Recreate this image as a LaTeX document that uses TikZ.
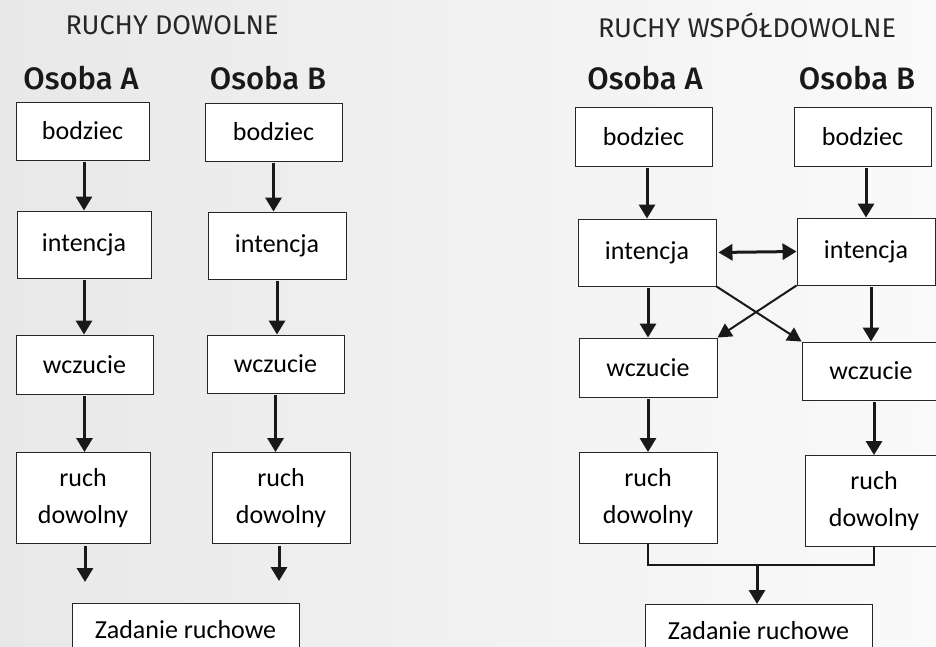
\documentclass[tikz,border=0pt]{standalone}
\usepackage{fontspec}
\setmainfont{Carlito}
\newfontfamily\headfont{Fira Sans}
\newfontfamily\personfont{Fira Sans Medium}
\usetikzlibrary{arrows.meta,calc}

\begin{document}
\begin{tikzpicture}[x=1pt,y=-1pt,
  boxline/.style={draw=black!85, line width=0.9pt},
  box/.style={boxline, fill=white, inner sep=0pt,
    align=center, font=\fontsize{26}{37}\selectfont},
  tasktext/.style={inner sep=0pt, font=\fontsize{26}{37}\selectfont},
  heading/.style={font=\headfont\fontsize{27}{30}\selectfont, text=black!85},
  person/.style={font=\personfont\fontsize{31}{34}\selectfont, text=black!90},
  flow/.style={line width=3pt, draw=black!90,
    -{Triangle[length=14pt,width=16pt]}},
  cross/.style={line width=2pt, draw=black!90,
    -{Triangle[length=14pt,width=15pt]}},
  link/.style={line width=2.5pt, draw=black!90},
  gapped/.style={shorten <=2pt}]

% page and faint background
\useasboundingbox (0,0) rectangle (936,647);
\clip (0,0) rectangle (936,647);
\shade[left color=black!9, middle color=black!5, right color=black!2]
  (0,0) rectangle (936,647);

% ---------- voluntary movements ----------
\node[heading] (tL) at (172,25) {RUCHY DOWOLNE};
\node[person] (pLA) at (81,78) {Osoba A};
\node[person] (pLB) at (268,78) {Osoba B};

\node[box, minimum width=133pt, minimum height=58pt] (lbA) at (82.5,131) {bodziec};
\node[box, minimum width=137pt, minimum height=58pt] (lbB) at (273.5,132) {bodziec};
\node[box, minimum width=134pt, minimum height=67pt] (liA) at (84,244.5) {intencja};
\node[box, minimum width=138pt, minimum height=67pt] (liB) at (277,245.5) {intencja};
\node[box, minimum width=137pt, minimum height=59pt] (lwA) at (84.5,364.5) {wczucie};
\node[box, minimum width=137pt, minimum height=58pt] (lwB) at (275.5,364) {wczucie};
\node[box, minimum width=134pt, minimum height=91pt] (lrA) at (83,498) {ruch\\dowolny};
\node[box, minimum width=138pt, minimum height=91pt] (lrB) at (281,498) {ruch\\dowolny};

% task box: open at the lower page edge
\fill[white] (72,603) rectangle (299,660);
\draw[boxline] (72,660) |- (299,603) -- (299,660);
\node[tasktext] (lz) at (185.5,630) {Zadanie ruchowe};

\coordinate (leA) at (85,582);
\coordinate (leB) at (279,581);

\draw[flow, gapped] (liA.north |- lbA.south) -- (liA.north);
\draw[flow, gapped] (lbB.south) -- (lbB.south |- liB.north);
\draw[flow, gapped] (liA.south) -- (liA.south |- lwA.north);
\draw[flow, gapped] (liB.south) -- (liB.south |- lwB.north);
\draw[flow, gapped] (lwA.south) -- (lwA.south |- lrA.north);
\draw[flow, gapped] (lwB.south) -- (lwB.south |- lrB.north);
\draw[flow, gapped] (leA |- lrA.south) -- (leA);
\draw[flow, gapped] (leB |- lrB.south) -- (leB);

% ---------- co-voluntary movements ----------
\node[heading] (tR) at (747,25) {RUCHY WSPÓŁDOWOLNE};
\node[person] (pRA) at (645,78) {Osoba A};
\node[person] (pRB) at (857,78) {Osoba B};

\node[box, minimum width=137pt, minimum height=59pt] (rbA) at (643.5,136.5) {bodziec};
\node[box, minimum width=137pt, minimum height=59pt] (rbB) at (862.5,136.5) {bodziec};
\node[box, minimum width=138pt, minimum height=67pt] (riA) at (647,252.5) {intencja};
\node[box, minimum width=138pt, minimum height=67pt] (riB) at (866,251.5) {intencja};
\node[box, minimum width=138pt, minimum height=59pt] (rwA) at (648,367.5) {wczucie};
\node[box, minimum width=138pt, minimum height=58pt] (rwB) at (871,371) {wczucie};
\node[box, minimum width=138pt, minimum height=91pt] (rrA) at (648,498) {ruch\\dowolny};
\node[box, minimum width=138pt, minimum height=91pt] (rrB) at (874,501) {ruch\\dowolny};

\fill[white] (645,604) rectangle (872,660);
\draw[boxline] (645,660) |- (872,604) -- (872,660);
\node[tasktext] (rz) at (758.5,631) {Zadanie ruchowe};
\coordinate (rzTop) at (758.5,604);

\draw[flow, gapped] (riA.north |- rbA.south) -- (riA.north);
\draw[flow, gapped] (riB.north |- rbB.south) -- (riB.north);
\draw[line width=3pt, draw=black!90,
  {Triangle[length=14pt,width=16pt]}-{Triangle[length=14pt,width=16pt]},
  shorten <=2pt] (riA.east) -- (riB.west);
\draw[flow, gapped] (rwA.north |- riA.south) -- (rwA.north);
\draw[flow, gapped] (rwB.north |- riB.south) -- (rwB.north);
\draw[cross] (riA.south east) -- (rwB.north west);
\draw[cross] (riB.south west) -- (rwA.north east);
\draw[flow, gapped] (rrA.north |- rwA.south) -- (rrA.north);
\draw[flow, gapped] (rrB.north |- rwB.south) -- (rrB.north);

% both movements join into one task
\coordinate (join) at (757,565);
\draw[link] (rrA.south) -- (rrA.south |- join) -- (rrB.south |- join);
\draw[link] (rrB.south) -- ([yshift=-1.25pt]rrB.south |- join);
\draw[flow] (join) -- (join |- rzTop);
\end{tikzpicture}
\end{document}
